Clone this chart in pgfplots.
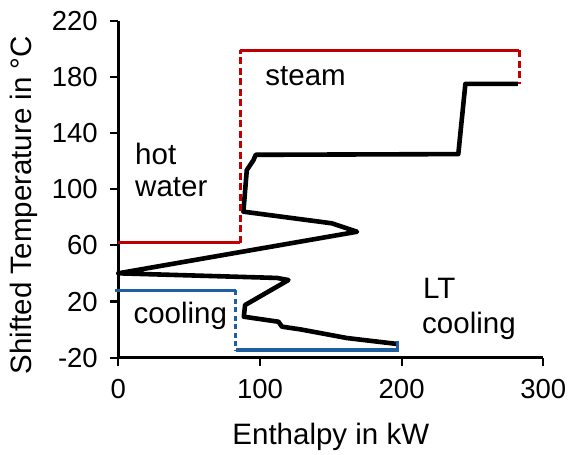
\documentclass[border=0pt]{standalone}
\usepackage{fontspec}
\setmainfont{Liberation Sans}
\usepackage{pgfplots}
\pgfplotsset{compat=1.18}

\definecolor{hotred}{HTML}{C00000}
\definecolor{coolblue}{HTML}{1F5FA0}

% grand composite curve (shifted temperature vs. enthalpy)
\pgfplotstableread{
x y
282 175
245 175
240 125
97 124.5
95.4 120.7
90.7 113.6
88.3 84
150.8 75.7
168.5 69.7
0 40.1
112 36.8
120.1 35.3
89.5 17.5
88.6 9.2
113.1 5.6
115.5 2.1
128.4 0.2
161.4 -6.0
196.7 -10.2
}\gcc

\newcommand{\tickfont}{\fontsize{27.5}{33}\selectfont}
\newcommand{\labfont}{\fontsize{29.5}{35}\selectfont}

\begin{document}
\begin{tikzpicture}
\begin{axis}[
  width=425pt, height=337pt, scale only axis,
  xmin=0, xmax=300, ymin=-20, ymax=220,
  axis lines=left,
  axis line style={-, line width=3.4pt, black},
  xtick={0,100,200,300},
  xticklabels={0,100,200,300},
  ytick={-20,20,60,100,140,180,220},
  yticklabels={-20,20,60,100,140,180,220},
  tick align=outside,
  major tick length=8pt,
  tick style={line width=2.2pt, black},
  ticklabel style={font=\tickfont},
  xticklabel style={anchor=north, yshift=-10pt},
  yticklabel style={anchor=east, xshift=-9pt},
  label style={font=\labfont},
  xlabel={Enthalpy in kW},
  ylabel={Shifted Temperature in °C},
  xlabel style={at={(axis description cs:0.5,-0.259)}, anchor=base},
  ylabel style={at={(axis description cs:-0.222,0.453)}, anchor=center},
  clip=false,
]
\addplot[black, line width=4.6pt, line join=round] table {\gcc};

% hot utilities
\addplot[hotred, line width=3.2pt] coordinates {(0,62) (86,62)};
\addplot[hotred, line width=3.2pt, dash pattern=on 7pt off 3.5pt] coordinates {(86,62) (86,199)};
\addplot[hotred, line width=3.2pt] coordinates {(86,199) (283,199)};
\addplot[hotred, line width=3.2pt, dash pattern=on 7pt off 3.5pt] coordinates {(283,199) (283,175)};

% cold utilities
\addplot[coolblue, line width=3.2pt] coordinates {(-2,28) (83,28)};
\addplot[coolblue, line width=3.2pt, dash pattern=on 5pt off 3.5pt] coordinates {(83,28) (83,-14.5)};
\addplot[coolblue, line width=3.2pt] coordinates {(83,-14.5) (197,-14.5) (197,-8)};

\node[font=\labfont, anchor=base west, inner sep=0pt] at (axis cs:103.7,174.1) {steam};
\node[font=\labfont, anchor=base west, inner sep=0pt] at (axis cs:11.8,117.4) {hot};
\node[font=\labfont, anchor=base west, inner sep=0pt] at (axis cs:11.8,94.6) {water};
\node[font=\labfont, anchor=base west, inner sep=0pt] at (axis cs:10.6,4.5) {cooling};
\node[font=\labfont, anchor=base west, inner sep=0pt] at (axis cs:215,22.3) {LT};
\node[font=\labfont, anchor=base west, inner sep=0pt] at (axis cs:214.4,-2.6) {cooling};
\end{axis}
\pgfresetboundingbox
\path[use as bounding box] (-118.3pt,-97.3pt) rectangle (454.7pt,337pt+20.7pt);
\end{tikzpicture}
\end{document}
